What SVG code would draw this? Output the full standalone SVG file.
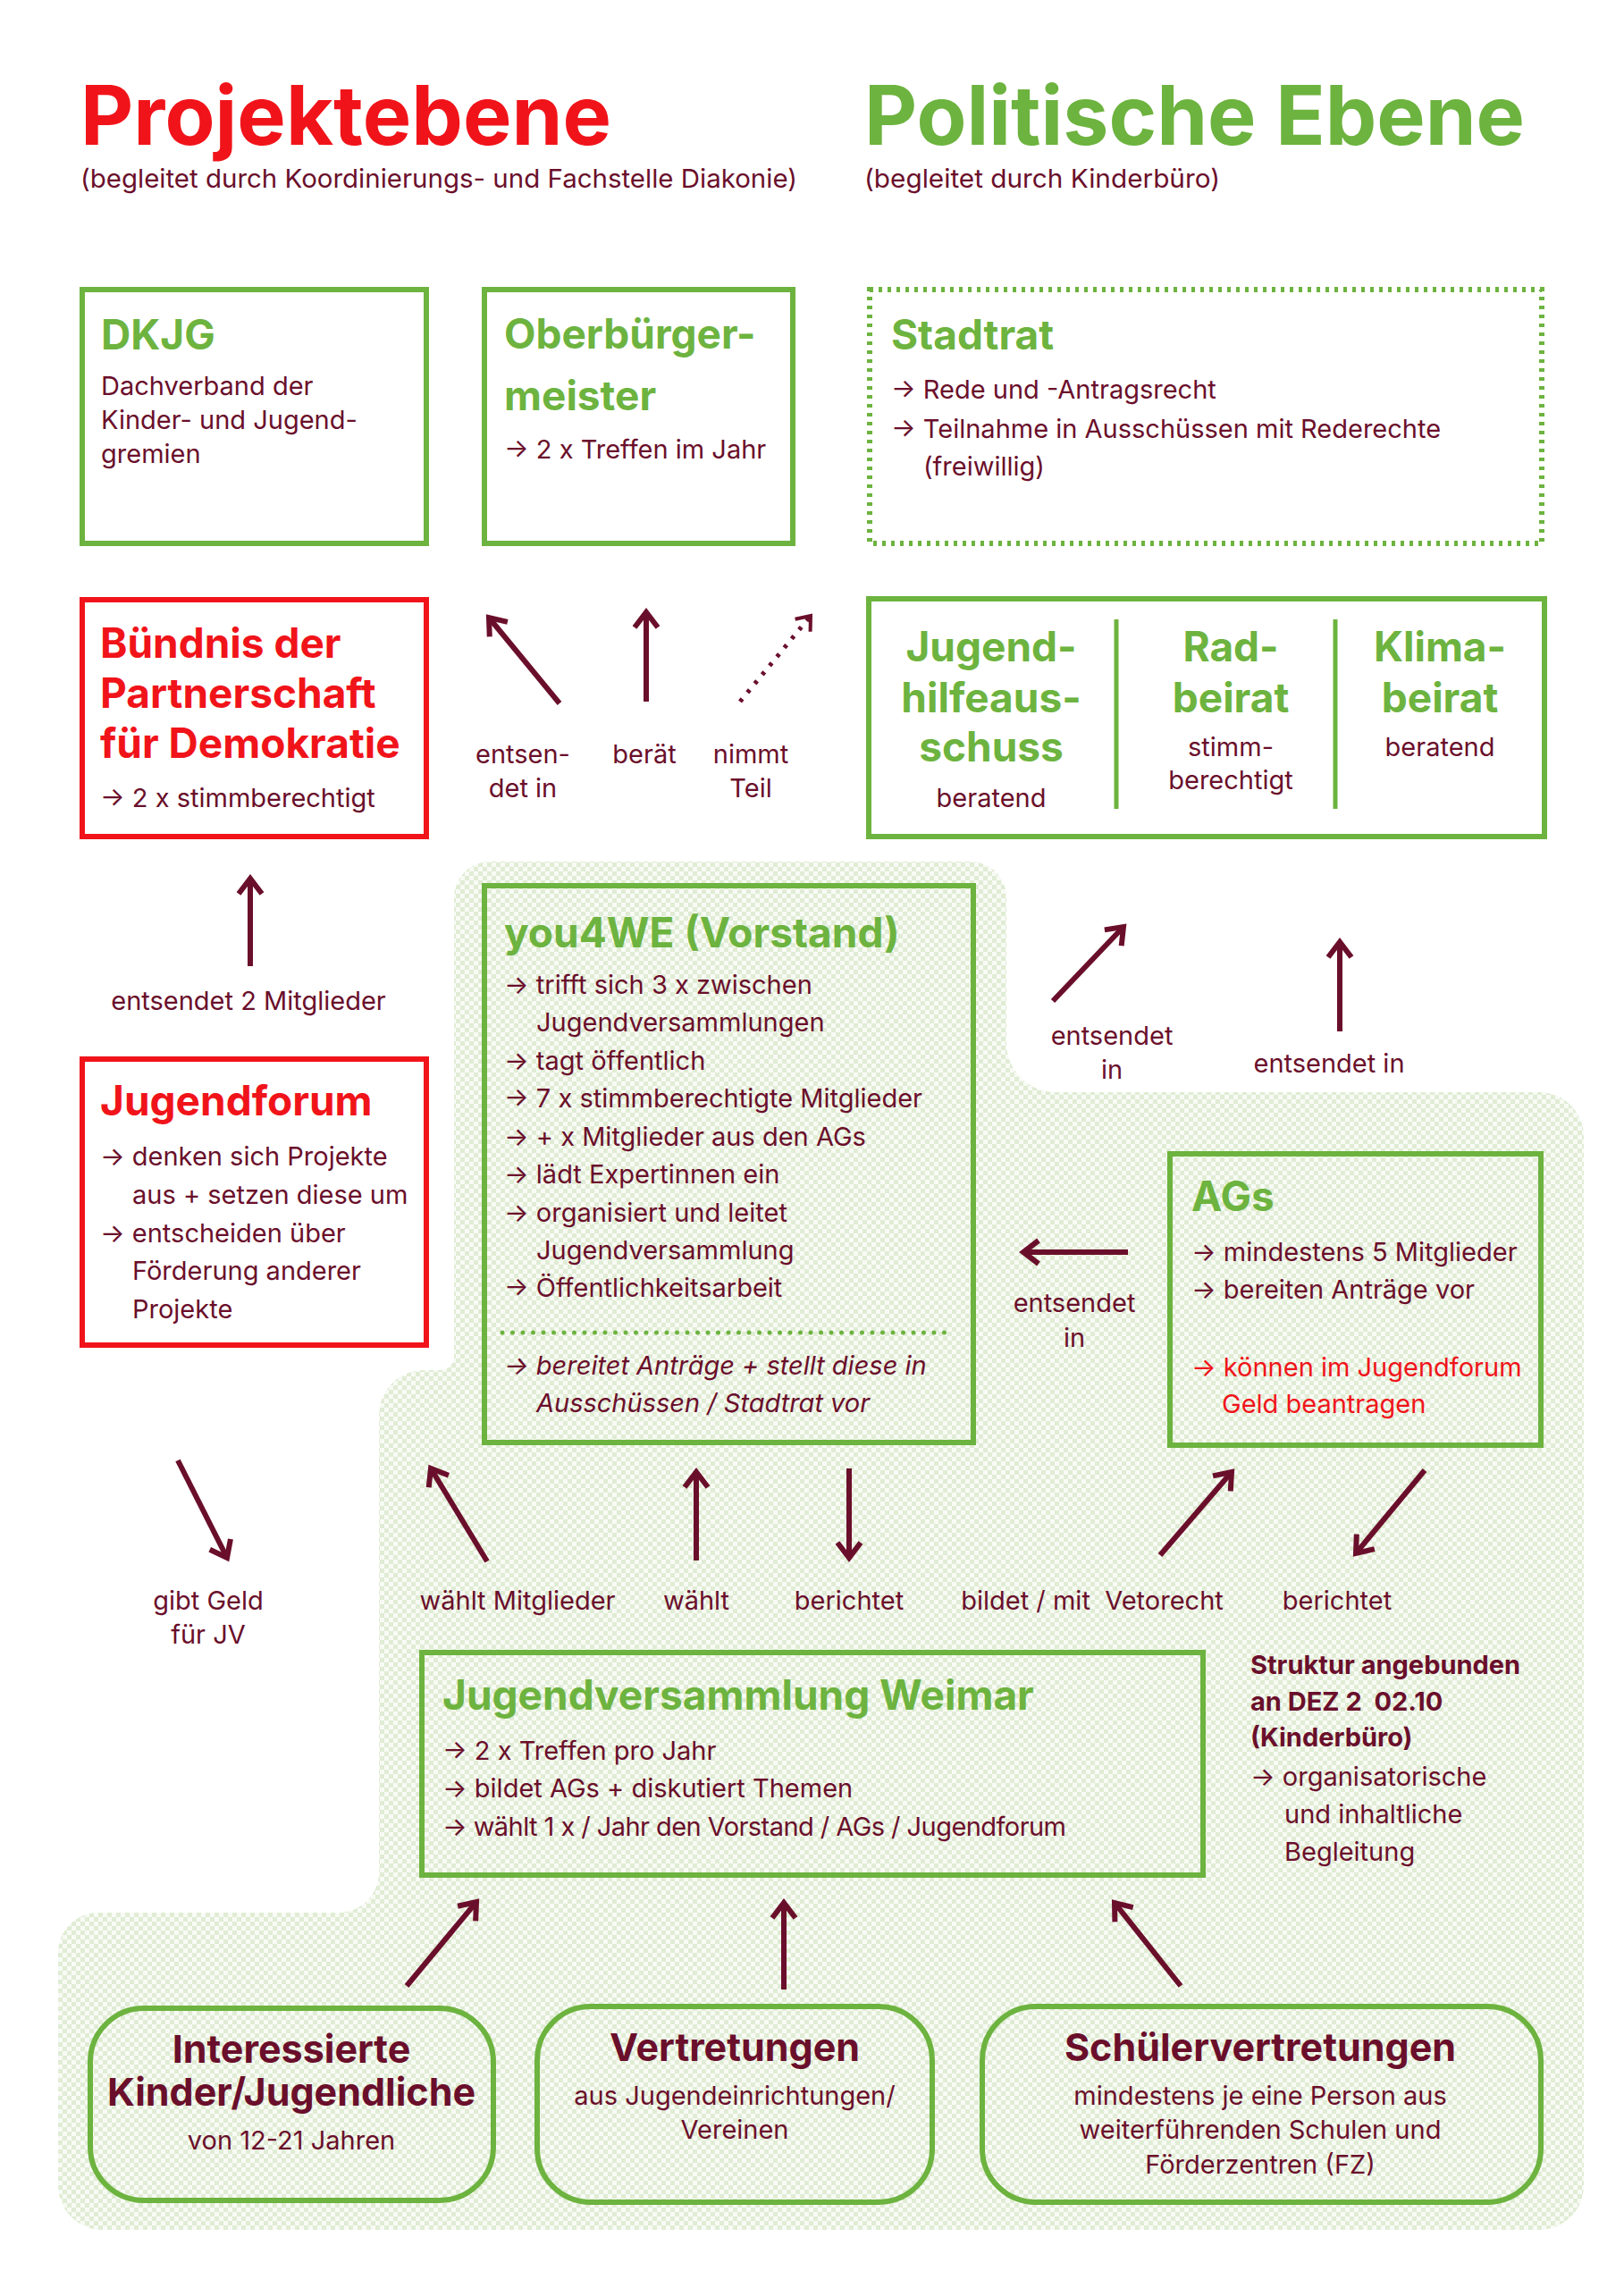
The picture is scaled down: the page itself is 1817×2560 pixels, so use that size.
<svg xmlns="http://www.w3.org/2000/svg" width="1817" height="2560" viewBox="0 0 1817 2560">
<defs>
<style>
.t{font-family:Inter,"Noto Sans","Liberation Sans",sans-serif;font-size:29px;fill:#6a0f2b}
.h{font-size:46px;font-weight:700}
.big{font-size:92px;font-weight:700}
.m{font-size:43px;font-weight:700}
.b{font-weight:700}
.g{fill:#6db33f}
.r{fill:#f0141a}
.c{text-anchor:middle}
.i{font-style:italic}
.pre{white-space:pre}
.bx{fill:none;stroke:#6db33f;stroke-width:6}
.rx{fill:#fff;stroke:#f0141a;stroke-width:6}
.a{fill:none;stroke:#6a0f2b;stroke-width:6;marker-end:url(#ah)}
.ad{fill:none;stroke:#6a0f2b;stroke-width:5;stroke-dasharray:4 9;marker-end:url(#ahd)}
</style>
<pattern id="chk" patternUnits="userSpaceOnUse" width="10" height="10">
<rect width="10" height="10" fill="#f8fbf5"/>
<rect width="5" height="5" fill="#e0ecd4"/>
<rect x="5" y="5" width="5" height="5" fill="#e0ecd4"/>
</pattern>
<marker id="ah" markerUnits="userSpaceOnUse" viewBox="-30 -20 40 40" refX="0" refY="0" markerWidth="40" markerHeight="40" orient="auto">
<path d="M-17 -13 L0 0 L-17 13" fill="none" stroke="#6a0f2b" stroke-width="6"/>
</marker>
<marker id="ahd" markerUnits="userSpaceOnUse" viewBox="-30 -20 40 40" refX="0" refY="0" markerWidth="40" markerHeight="40" orient="auto">
<path d="M-14 -11 L0 0 L-14 11" fill="none" stroke="#6a0f2b" stroke-width="4"/>
</marker>
</defs>
<rect width="1817" height="2560" fill="#fff"/>
<path id="bg" fill="url(#chk)" d="M508 1004 A40 40 0 0 1 548 964 H1086 A40 40 0 0 1 1126 1004 V1167 A55 55 0 0 0 1181 1222 H1722 A50 50 0 0 1 1772 1272 V2445 A50 50 0 0 1 1722 2495 H115 A50 50 0 0 1 65 2445 V2185 A45 45 0 0 1 110 2140 H379 A45 45 0 0 0 424 2095 V1583 A50 50 0 0 1 474 1533 H493 A15 15 0 0 0 508 1518 Z"/>

<g id="titles">
<text class="t r big" x="90" y="162" textLength="594" lengthAdjust="spacingAndGlyphs">Projektebene</text>
<text class="t" x="90" y="210" textLength="802" lengthAdjust="spacingAndGlyphs">(begleitet durch Koordinierungs- und Fachstelle Diakonie)</text>
<text class="t g big" x="967" y="162" textLength="739" lengthAdjust="spacingAndGlyphs">Politische Ebene</text>
<text class="t" x="967" y="210" textLength="398" lengthAdjust="spacingAndGlyphs">(begleitet durch Kinderbüro)</text>
</g>

<g id="dkjg">
<rect class="bx" x="92" y="324" width="385" height="284"/>
<text class="t h g" x="113" y="391">DKJG</text>
<text class="t" x="113" y="442">Dachverband der</text>
<text class="t" x="113" y="480">Kinder- und Jugend-</text>
<text class="t" x="113" y="518">gremien</text>
</g>

<g id="ob">
<rect class="bx" x="542" y="324" width="345" height="284"/>
<text class="t h g" x="564" y="390">Oberbürger-</text>
<text class="t h g" x="564" y="459">meister</text>
<text class="t" x="564" y="513">→ 2 x Treffen im Jahr</text>
</g>

<g id="stadtrat">
<rect class="bx" x="973" y="324" width="752" height="284" stroke-width="5" stroke-dasharray="4 6"/>
<text class="t h g" x="997" y="391">Stadtrat</text>
<text class="t" x="997" y="446">→ Rede und -Antragsrecht</text>
<text class="t" x="997" y="490">→ Teilnahme in Ausschüssen mit Rederechte</text>
<text class="t" x="1033" y="532">(freiwillig)</text>
</g>

<g id="buendnis">
<rect class="rx" x="92" y="671" width="385" height="265"/>
<text class="t h r" x="112" y="736">Bündnis der</text>
<text class="t h r" x="112" y="792">Partnerschaft</text>
<text class="t h r" x="112" y="848">für Demokratie</text>
<text class="t" x="112" y="903">→ 2 x stimmberechtigt</text>
</g>

<g id="gremien">
<rect class="bx" x="972" y="670" width="756" height="266"/>
<line x1="1249" y1="693" x2="1249" y2="905" stroke="#6db33f" stroke-width="5"/>
<line x1="1494" y1="693" x2="1494" y2="905" stroke="#6db33f" stroke-width="5"/>
<text class="t h g c" x="1109" y="740">Jugend-</text>
<text class="t h g c" x="1109" y="797">hilfeaus-</text>
<text class="t h g c" x="1109" y="852">schuss</text>
<text class="t c" x="1109" y="903">beratend</text>
<text class="t h g c" x="1377" y="740">Rad-</text>
<text class="t h g c" x="1377" y="797">beirat</text>
<text class="t c" x="1377" y="846">stimm-</text>
<text class="t c" x="1377" y="883">berechtigt</text>
<text class="t h g c" x="1611" y="740">Klima-</text>
<text class="t h g c" x="1611" y="797">beirat</text>
<text class="t c" x="1611" y="846">beratend</text>
</g>

<g id="jugendforum">
<rect class="rx" x="92" y="1185" width="385" height="320"/>
<text class="t h r" x="112" y="1248">Jugendforum</text>
<text class="t" x="112" y="1304">→ denken sich Projekte</text>
<text class="t" x="148" y="1347">aus + setzen diese um</text>
<text class="t" x="112" y="1390">→ entscheiden über</text>
<text class="t" x="148" y="1432">Förderung anderer</text>
<text class="t" x="148" y="1475">Projekte</text>
</g>

<g id="vorstand">
<rect class="bx" x="542" y="991" width="547" height="623"/>
<text class="t h g" x="564" y="1060">you4WE (Vorstand)</text>
<text class="t" x="564" y="1112">→ trifft sich 3 x zwischen</text>
<text class="t" x="600" y="1154">Jugendversammlungen</text>
<text class="t" x="564" y="1197">→ tagt öffentlich</text>
<text class="t" x="564" y="1239">→ 7 x stimmberechtigte Mitglieder</text>
<text class="t" x="564" y="1282">→ + x Mitglieder aus den AGs</text>
<text class="t" x="564" y="1324">→ lädt Expertinnen ein</text>
<text class="t" x="564" y="1367">→ organisiert und leitet</text>
<text class="t" x="600" y="1409">Jugendversammlung</text>
<text class="t" x="564" y="1451">→ Öffentlichkeitsarbeit</text>
<line x1="562" y1="1491" x2="1066" y2="1491" stroke="#6db33f" stroke-width="5" stroke-linecap="round" stroke-dasharray="0 11.5"/>
<text class="t i" x="564" y="1538">→ bereitet Anträge + stellt diese in</text>
<text class="t i" x="600" y="1580">Ausschüssen / Stadtrat vor</text>
</g>

<g id="ags">
<rect class="bx" x="1309" y="1291" width="415" height="326"/>
<text class="t h g" x="1333" y="1355">AGs</text>
<text class="t" x="1333" y="1411">→ mindestens 5 Mitglieder</text>
<text class="t" x="1333" y="1453">→ bereiten Anträge vor</text>
<text class="t r" x="1333" y="1540">→ können im Jugendforum</text>
<text class="t r" x="1367" y="1581">Geld beantragen</text>
</g>

<g id="jvw">
<rect class="bx" x="472" y="1849" width="874" height="249"/>
<text class="t h g" x="495" y="1913">Jugendversammlung Weimar</text>
<text class="t" x="495" y="1969">→ 2 x Treffen pro Jahr</text>
<text class="t" x="495" y="2011">→ bildet AGs + diskutiert Themen</text>
<text class="t" x="495" y="2054" textLength="698" lengthAdjust="spacing">→ wählt 1 x / Jahr den Vorstand / AGs / Jugendforum</text>
</g>

<g id="struktur">
<text class="t b" x="1399" y="1873">Struktur angebunden</text>
<text class="t b pre" x="1399" y="1914" xml:space="preserve">an DEZ 2  02.10</text>
<text class="t b" x="1399" y="1954">(Kinderbüro)</text>
<text class="t" x="1399" y="1998">→ organisatorische</text>
<text class="t" x="1437" y="2040">und inhaltliche</text>
<text class="t" x="1437" y="2082">Begleitung</text>
</g>

<g id="interessierte">
<rect class="bx" x="101" y="2247" width="451" height="215" rx="60"/>
<text class="t m c" x="326" y="2308">Interessierte</text>
<text class="t m c" x="326" y="2356">Kinder/Jugendliche</text>
<text class="t c" x="326" y="2405">von 12-21 Jahren</text>
</g>

<g id="vertretungen">
<rect class="bx" x="601" y="2245" width="442" height="219" rx="60"/>
<text class="t m c" x="822" y="2306">Vertretungen</text>
<text class="t c" x="822" y="2355">aus Jugendeinrichtungen/</text>
<text class="t c" x="822" y="2393">Vereinen</text>
</g>

<g id="schueler">
<rect class="bx" x="1099" y="2245" width="625" height="219" rx="60"/>
<text class="t m c" x="1410" y="2306">Schülervertretungen</text>
<text class="t c" x="1410" y="2355">mindestens je eine Person aus</text>
<text class="t c" x="1410" y="2393">weiterführenden Schulen und</text>
<text class="t c" x="1410" y="2432">Förderzentren (FZ)</text>
</g>

<g id="connectors">
<line class="a" x1="626" y1="787" x2="547" y2="691"/>
<line class="a" x1="723" y1="785" x2="723" y2="685"/>
<line class="ad" x1="828" y1="785" x2="907" y2="689"/>
<line class="a" x1="280" y1="1081" x2="280" y2="983"/>
<line class="a" x1="1178" y1="1120" x2="1257" y2="1037"/>
<line class="a" x1="1499" y1="1154" x2="1499" y2="1054"/>
<line class="a" x1="1262" y1="1401" x2="1145" y2="1401"/>
<line class="a" x1="199" y1="1634" x2="254" y2="1743"/>
<line class="a" x1="545" y1="1747" x2="482" y2="1643"/>
<line class="a" x1="779" y1="1746" x2="779" y2="1647"/>
<line class="a" x1="950" y1="1643" x2="950" y2="1743"/>
<line class="a" x1="1298" y1="1740" x2="1378" y2="1647"/>
<line class="a" x1="1594" y1="1645" x2="1517" y2="1738"/>
<line class="a" x1="455" y1="2222" x2="533" y2="2128"/>
<line class="a" x1="877" y1="2226" x2="877" y2="2129"/>
<line class="a" x1="1321" y1="2222" x2="1247" y2="2129"/>
<text class="t c" x="585" y="854">entsen-</text>
<text class="t c" x="585" y="892">det in</text>
<text class="t c" x="721" y="854">berät</text>
<text class="t c" x="840" y="854">nimmt</text>
<text class="t c" x="840" y="892">Teil</text>
<text class="t c" x="278" y="1130">entsendet 2 Mitglieder</text>
<text class="t c" x="1244" y="1169">entsendet</text>
<text class="t c" x="1244" y="1207">in</text>
<text class="t c" x="1487" y="1200">entsendet in</text>
<text class="t c" x="1202" y="1468">entsendet</text>
<text class="t c" x="1202" y="1507">in</text>
<text class="t c" x="233" y="1801">gibt Geld</text>
<text class="t c" x="233" y="1839">für JV</text>
<text class="t c" x="579" y="1801">wählt Mitglieder</text>
<text class="t c" x="779" y="1801">wählt</text>
<text class="t c" x="950" y="1801">berichtet</text>
<text class="t c pre" x="1222" y="1801" xml:space="preserve">bildet / mit  Vetorecht</text>
<text class="t c" x="1496" y="1801">berichtet</text>
</g>
</svg>
